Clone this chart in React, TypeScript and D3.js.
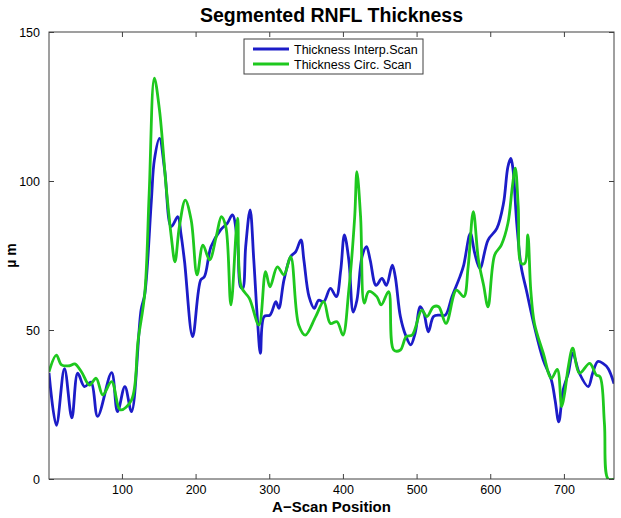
import { useRef, useEffect } from "react";
import * as d3 from "d3";

// A-scan positions and thickness (µm)
const interpX = [
  1, 11, 22, 32, 40, 49, 58, 67, 86, 94,
  104, 113, 126, 131, 140, 144, 151, 158, 167, 176,
  180, 185, 196, 207, 212, 221, 234, 243, 250, 257,
  261, 264, 268, 274, 279, 284, 288, 293, 301, 309,
  313, 320, 329, 336, 343, 347, 354, 361, 367, 374,
  383, 391, 397, 402, 408, 414, 419, 426, 432, 437,
  445, 453, 459, 467, 471, 478, 485, 492, 498, 505,
  510, 516, 523, 531, 539, 548, 559, 564, 573, 579,
  586, 597, 609, 618, 624, 628, 631, 636, 642, 649,
  660, 672, 683, 688, 693, 699, 706, 712, 721, 733,
  739, 746, 753, 760, 768,
];
const interpY = [
  35.6, 18, 37, 20.5, 35.5, 31, 32.5, 21, 35.7, 22.6,
  31, 22.6, 56.7, 62, 93.6, 107, 114.3, 103.7, 84.7, 88,
  82.5, 73, 47.8, 66.8, 67.9, 78, 83.6, 85.8, 88.6, 79,
  64.5, 64, 78, 90.3, 73.5, 53.4, 42.2, 54.5, 55, 59.5,
  57.3, 66.8, 74.6, 76.3, 80.2, 73.5, 61.2, 57.3, 60, 59.5,
  64, 61.2, 70, 81.9, 73.5, 56, 60, 74.6, 78, 73.5,
  65, 67.3, 65, 71.8, 68, 54.5, 48.3, 45, 48.9, 57.8,
  55.6, 49.4, 54.5, 55, 55, 61.2, 68, 71.8, 82.4, 75.7,
  70.7, 80.2, 84.1, 92.5, 104.8, 107.6, 103.7, 85.8, 71.2, 63.4,
  51.1, 39.9, 33.2, 26.5, 19.2, 29.9, 35.5, 42.2, 35.5, 31,
  35.5, 39.4, 38.8, 37.1, 32,
];

const circX = [
  1, 11, 18, 29, 36, 45, 56, 65, 74, 86,
  98, 113, 122, 131, 137, 144, 151, 160, 167, 172,
  178, 186, 194, 202, 210, 219, 228, 235, 241, 248,
  257, 262, 273, 286, 295, 301, 311, 320, 329, 340,
  349, 363, 374, 383, 392, 400, 408, 416, 419, 424,
  429, 435, 446, 452, 462, 469, 478, 486, 494, 507,
  514, 523, 530, 540, 554, 564, 570, 577, 584, 591,
  597, 606, 615, 624, 630, 634, 638, 642, 647, 651,
  655, 660, 672, 683, 691, 697, 701, 706, 712, 721,
  735, 744, 749, 755, 760, 768,
];
const circY = [
  36, 41.6, 38.3, 38, 38.6, 36, 31.5, 33.8, 28.2, 32.7,
  23.2, 26.5, 46.6, 62.3, 95.9, 134.5, 123.8, 98.1, 81.3, 72.9,
  84.7, 93.6, 86.9, 68.5, 78.5, 73.5, 81.3, 88, 84.7, 58.4,
  87.5, 64.5, 60.6, 51.7, 69.6, 64.5, 71.2, 68.5, 74.6, 51.7,
  48.3, 54.5, 59.5, 52.2, 52.8, 48.3, 63.4, 88, 103.1, 88,
  59, 62.9, 61.2, 58.4, 62.9, 43.3, 43.3, 47.8, 48.3, 56.7,
  54.5, 57.8, 57.8, 52.2, 63.4, 61.2, 71.2, 89.7, 73.5, 65,
  57.8, 75.2, 78.5, 85.8, 98.1, 104.3, 91.4, 72.4, 72.4, 81.9,
  63.4, 52.2, 42.2, 33.8, 36.8, 24.3, 28.8, 37.7, 43.9, 35.5,
  38.8, 34.9, 34.3, 18.7, 0, 0,
];

const xTicks = [100, 200, 300, 400, 500, 600, 700];
const yTicks = [0, 50, 100, 150];
const seriesNames = ["Thickness Interp.Scan", "Thickness Circ. Scan"];
const colors = ["#1c1cc8", "#1ec81e"];

const W = 621;
const H = 518;
const margin = { left: 49, right: 7, top: 32, bottom: 39 };
const font = "'Liberation Sans', Arial, Helvetica, sans-serif";

function RnflChart() {
  const svgRef = useRef<SVGSVGElement>(null);

  useEffect(() => {
    const svg = d3.select(svgRef.current);
    svg.selectAll("*").remove();

    const x = d3.scaleLinear().domain([1, 768]).range([margin.left, W - margin.right]);
    const y = d3.scaleLinear().domain([0, 150]).range([H - margin.bottom, margin.top]);

    const g = svg.append("g");

    const series = [
      interpX.map((v, i) => [v, interpY[i]] as [number, number]),
      circX.map((v, i) => [v, circY[i]] as [number, number]),
    ];

    const ln = d3
      .line<[number, number]>()
      .x((d) => x(d[0]))
      .y((d) => y(d[1]))
      .curve(d3.curveCatmullRom.alpha(0.5));

    svg
      .append("clipPath")
      .attr("id", "plot-clip")
      .append("rect")
      .attr("x", margin.left)
      .attr("y", margin.top - 2)
      .attr("width", W - margin.left - margin.right)
      .attr("height", H - margin.top - margin.bottom + 2);

    // axes, MATLAB style: ticks point inward
    const axisColor = "#404040";
    const styleAxis = (sel: any) => {
      sel.select(".domain").remove();
      sel.selectAll("line").attr("stroke", axisColor);
      sel.selectAll("text").attr("font-family", font).attr("font-size", 12.5).attr("fill", "#000");
    };

    g.append("g")
      .attr("transform", `translate(0,${H - margin.bottom})`)
      .call(d3.axisBottom(x).tickValues(xTicks).tickSizeInner(-5).tickSizeOuter(0).tickPadding(6))
      .call(styleAxis);
    g.append("g")
      .attr("transform", `translate(0,${margin.top})`)
      .call(d3.axisTop(x).tickValues(xTicks).tickFormat(() => "").tickSizeInner(-5).tickSizeOuter(0))
      .call(styleAxis);
    g.append("g")
      .attr("transform", `translate(${margin.left},0)`)
      .call(d3.axisLeft(y).tickValues(yTicks).tickSizeInner(-5).tickSizeOuter(0).tickPadding(9))
      .call(styleAxis);
    g.append("g")
      .attr("transform", `translate(${W - margin.right},0)`)
      .call(d3.axisRight(y).tickValues(yTicks).tickFormat(() => "").tickSizeInner(-5).tickSizeOuter(0))
      .call(styleAxis);

    g.selectAll(".series")
      .data(series)
      .join("path")
      .attr("class", "series")
      .attr("d", (d) => ln(d))
      .attr("fill", "none")
      .attr("stroke", (_, i) => colors[i])
      .attr("stroke-width", 2.8)
      .attr("stroke-linejoin", "round")
      .attr("clip-path", "url(#plot-clip)");

    g.append("rect")
      .attr("x", margin.left)
      .attr("y", margin.top)
      .attr("width", W - margin.left - margin.right)
      .attr("height", H - margin.top - margin.bottom)
      .attr("fill", "none")
      .attr("stroke", axisColor)
      .attr("stroke-width", 1);

    // legend
    const lg = g.append("g").attr("transform", "translate(244,39)");
    lg.append("rect")
      .attr("width", 179)
      .attr("height", 35)
      .attr("fill", "#fff")
      .attr("stroke", axisColor);
    seriesNames.forEach((name, i) => {
      const yy = 10 + i * 15;
      lg.append("line")
        .attr("x1", 9)
        .attr("x2", 45)
        .attr("y1", yy)
        .attr("y2", yy)
        .attr("stroke", colors[i])
        .attr("stroke-width", 2.8);
      lg.append("text")
        .attr("x", 50)
        .attr("y", yy + 4.5)
        .attr("font-family", font)
        .attr("font-size", 12.5)
        .text(name);
    });

    // titles
    g.append("text")
      .attr("x", (margin.left + W - margin.right) / 2)
      .attr("y", 22)
      .attr("text-anchor", "middle")
      .attr("font-family", font)
      .attr("font-weight", "bold")
      .attr("font-size", 19.5)
      .text("Segmented RNFL Thickness");
    g.append("text")
      .attr("x", (margin.left + W - margin.right) / 2)
      .attr("y", 512)
      .attr("text-anchor", "middle")
      .attr("font-family", font)
      .attr("font-weight", "bold")
      .attr("font-size", 15)
      .text("A\u2212Scan Position");
    g.append("text")
      .attr("transform", `translate(16,${(margin.top + H - margin.bottom) / 2}) rotate(-90)`)
      .attr("text-anchor", "middle")
      .attr("font-family", font)
      .attr("font-weight", "bold")
      .attr("font-size", 14)
      .text("\u00b5 m");
  }, []);

  return (
    <svg
      ref={svgRef}
      width={W}
      height={H}
      style={{ position: "absolute", left: 0, top: 0, background: "#fff" }}
    />
  );
}

export default function App() {
  return <RnflChart />;
}
